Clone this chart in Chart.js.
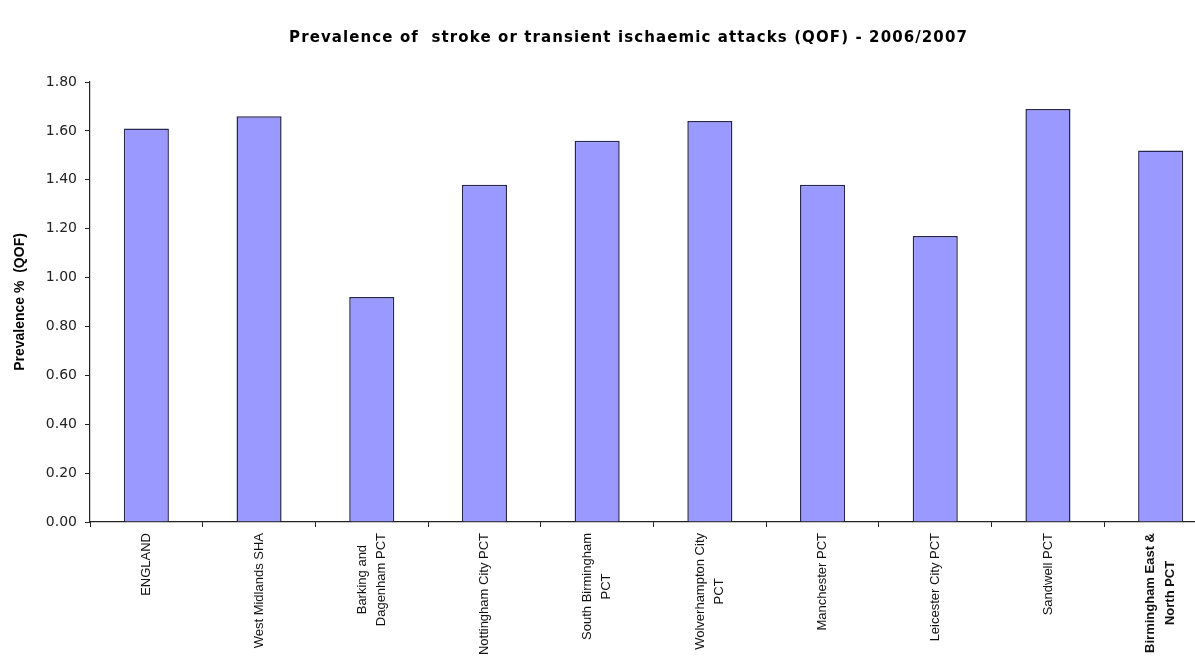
<!DOCTYPE html>
<html lang="en">

<head>
    <meta charset="UTF-8">
    <title>stroke / TIA prevalence</title>
    <script src="https://cdn.jsdelivr.net/npm/chart.js"></script>
    <style>
        body { margin: 0; background: #fff; overflow: hidden; }
        #wrap { width: 1257px; height: 656px; }
    </style>
</head>

<body>
    <div id="wrap"><canvas id="barChart"></canvas></div>
    <script>
        // data
        const chartTitle = 'Prevalence of  stroke or transient ischaemic attacks (QOF) - 2006/2007';
        const categories = [
            ['ENGLAND'],
            ['West Midlands SHA'],
            ['Barking and', 'Dagenham PCT'],
            ['Nottingham City PCT'],
            ['South Birmingham', 'PCT'],
            ['Wolverhampton City', 'PCT'],
            ['Manchester PCT'],
            ['Leicester City PCT'],
            ['Sandwell PCT'],
            ['Birmingham East &', 'North PCT']
        ];
        const prevalence = [1.61, 1.66, 0.92, 1.38, 1.56, 1.64, 1.38, 1.17, 1.69, 1.52];
        const yTicks = [0, 0.2, 0.4, 0.6, 0.8, 1.0, 1.2, 1.4, 1.6, 1.8];
        const boldIndex = 9;

        // title drawn with a bit of letter spacing (the original is stretched wide)
        const wideTitle = {
            id: 'wideTitle',
            afterDraw(chart) {
                const ctx = chart.ctx;
                ctx.save();
                ctx.font = 'bold 15px "DejaVu Sans", sans-serif';
                ctx.letterSpacing = '1.1px';
                ctx.fillStyle = '#000';
                ctx.textAlign = 'center';
                ctx.textBaseline = 'middle';
                ctx.fillText(chartTitle, chart.width / 2, 38);
                ctx.restore();
            }
        };

        // vertical category labels, lines centred on the tick like the original
        const xLabels = {
            id: 'xLabels',
            afterDraw(chart) {
                const xs = chart.scales.x;
                const ctx = chart.ctx;
                ctx.save();
                ctx.fillStyle = '#111';
                ctx.textAlign = 'center';
                ctx.textBaseline = 'middle';
                categories.forEach((lines, i) => {
                    ctx.font = (i === boldIndex ? 'bold ' : '') + '13px "Liberation Sans", Arial, sans-serif';
                    const w = Math.max(...lines.map(l => ctx.measureText(l).width));
                    const x = xs.getPixelForTick(i);
                    const y = xs.top + 11 + w / 2;
                    lines.forEach((line, j) => {
                        ctx.save();
                        ctx.translate(x + (j - (lines.length - 1) / 2) * 19.5, y);
                        ctx.rotate(-Math.PI / 2);
                        ctx.fillText(line, 0, 0);
                        ctx.restore();
                    });
                });
                ctx.restore();
            }
        };

        const ctx = document.getElementById('barChart').getContext('2d');
        new Chart(ctx, {
            type: 'bar',
            data: {
                labels: categories,
                datasets: [{
                    label: 'Prevalence',
                    data: prevalence,
                    backgroundColor: '#9999ff',
                    borderColor: '#262650',
                    borderWidth: 1.5,
                    barPercentage: 0.4,
                    categoryPercentage: 1
                }]
            },
            options: {
                responsive: true,
                maintainAspectRatio: false,
                animation: false,
                layout: { padding: { left: 0, right: 40, top: 82, bottom: 0 } },
                plugins: {
                    legend: { display: false },
                    tooltip: { enabled: false },
                    title: { display: false }
                },
                scales: {
                    x: {
                        afterFit(scale) { scale.height = 134; },
                        ticks: { display: false },
                        grid: { offset: true, drawOnChartArea: false, tickLength: 5, color: '#222' },
                        border: { display: true, color: '#222', width: 1.2 }
                    },
                    y: {
                        min: 0,
                        max: 1.8,
                        afterFit(scale) { scale.width = 90; },
                        afterBuildTicks(scale) { scale.ticks = yTicks.map(v => ({ value: v })); },
                        ticks: {
                            color: '#222',
                            padding: 8,
                            font: { family: '"DejaVu Sans", sans-serif', size: 14 },
                            callback: v => v.toFixed(2)
                        },
                        grid: { drawOnChartArea: false, tickLength: 5, color: '#222' },
                        border: { display: true, color: '#222', width: 1.2 },
                        title: {
                            display: true,
                            text: 'Prevalence %  (QOF)',
                            color: '#000',
                            font: { family: '"Liberation Sans", Arial, sans-serif', size: 14, weight: 'bold' },
                            padding: { top: 12, bottom: 0 }
                        }
                    }
                }
            },
            plugins: [wideTitle, xLabels]
        });
    </script>
</body>

</html>
